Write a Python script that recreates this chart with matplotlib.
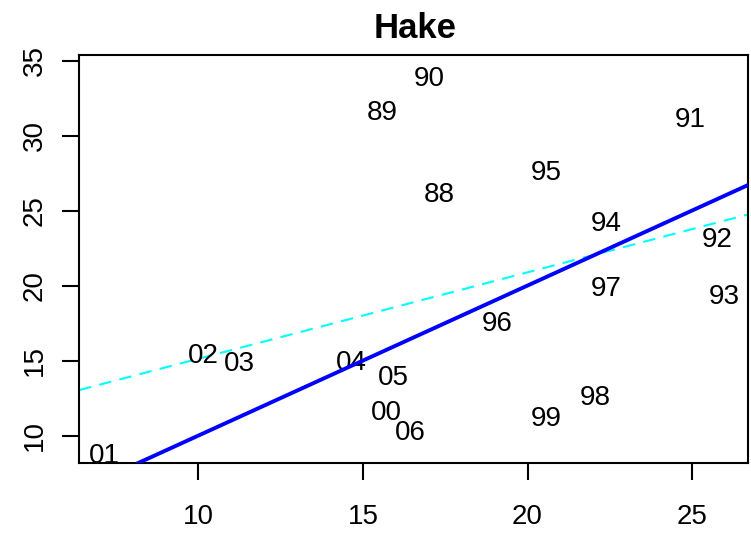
import matplotlib
matplotlib.use("Agg")
import matplotlib.pyplot as plt

labels = ["88", "89", "90", "91", "92", "93", "94", "95", "96", "97",
          "98", "99", "00", "01", "02", "03", "04", "05", "06"]
x_vals = [17.31, 15.58, 17.01, 24.94, 25.76, 25.97, 22.40, 20.56, 19.07, 22.40,
          22.05, 20.56, 15.70, 7.13, 10.14, 11.23, 14.64, 15.91, 16.43]
y_vals = [26.23, 31.70, 33.97, 31.23, 23.23, 19.43, 24.30, 27.70, 17.63, 19.97,
          12.70, 11.30, 11.70, 8.83, 15.50, 14.97, 15.03, 14.03, 10.37]
reg_intercept = 9.36
reg_slope = 0.576
xticks = [10, 15, 20, 25]
yticks = [10, 15, 20, 25, 30, 35]
xlim = (6.37, 26.70)
ylim = (8.17, 35.37)

plt.rcParams['font.family'] = ['Liberation Sans', 'DejaVu Sans']

fig = plt.figure(figsize=(7.51, 5.35), dpi=100)
ax = fig.add_axes([79/751, 1-463/535, (748-79)/751, (463-55)/535])
ax.set_xlim(*xlim)
ax.set_ylim(*ylim)

for lab, xv, yv in zip(labels, x_vals, y_vals):
    ax.text(xv, yv, lab, ha='center', va='center_baseline', fontsize=20, clip_on=True)

# 1:1 line
ax.axline((0, 0), slope=1, color='#0000ff', lw=2.8, zorder=3)
# regression line
ax.axline((0, reg_intercept), slope=reg_slope, color='#00ffff', lw=1.5,
          dashes=(6, 4), zorder=2)

ax.set_xticks(xticks)
ax.set_yticks(yticks)
ax.set_xticklabels([str(t) for t in xticks], fontsize=20)
ax.set_yticklabels([str(t) for t in yticks], fontsize=20, rotation=90, va='center')
ax.tick_params(axis='both', length=12.5, width=1.5, direction='out')
ax.tick_params(axis='x', pad=17)
ax.tick_params(axis='y', pad=10)
for s in ax.spines.values():
    s.set_linewidth(1.5)

fig.text(415/751, 1-28/535, "Hake", ha='center', va='center', fontsize=25, fontweight='bold')

fig.savefig("out.png", dpi=100)
